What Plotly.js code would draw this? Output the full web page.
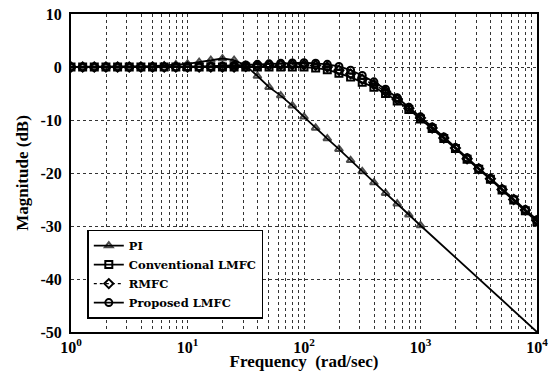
<!DOCTYPE html>
<html>
<head>
<meta charset="utf-8">
<script src="https://cdn.plot.ly/plotly-3.0.1.min.js"></script>
<style>html,body{margin:0;padding:0;background:#fff;}#chart{width:552px;height:371px;}</style>
</head>
<body>
<div id="chart"></div>
<script>
// Frequencies (rad/sec), 10 points per decade
var freq = [1,1.259,1.585,1.995,2.512,3.162,3.981,5.012,6.310,7.943,
            10,12.59,15.85,19.95,25.12,31.62,39.81,50.12,63.10,79.43,
            100,125.9,158.5,199.5,251.2,316.2,398.1,501.2,631.0,794.3,
            1000,1259,1585,1995,2512,3162,3981,5012,6310,7943,10000];

// PI: markers up to 1000, then line to 10^4
var piFreq = freq.slice(0,31).concat([10000]);
var piMag = [0,0,0,0,0,0.05,0.1,0.15,0.25,0.45,
             0.6,0.9,1.3,1.6,1.3,0.3,-1.7,-3.8,-5.4,-7.3,
             -9.4,-11.5,-13.5,-15.5,-17.6,-19.7,-21.8,-23.8,-25.8,-27.9,
             -29.9,-50];

var convMag = [0,0,0,0,0,0,0,0,0,0,
               0,0,0,0,0,0,0,0,0,0,
               0,-0.2,-0.5,-1.2,-1.9,-2.9,-3.8,-5.0,-6.4,-8.0,
               -9.8,-11.6,-13.5,-15.4,-17.4,-19.3,-21.2,-23.2,-25.1,-27.1,-29.2];

var rmfcMag = [0,0,0,0,0,0,0,0,0,0,
               0,0,0,0,0,0.1,0.2,0.3,0.4,0.4,
               0.4,0.3,0.0,-0.6,-1.3,-2.3,-3.3,-4.6,-6.1,-7.8,
               -9.6,-11.5,-13.4,-15.3,-17.3,-19.2,-21.1,-23.1,-25.0,-27.0,-29.0];

var propMag = [0,0,0,0,0,0,0,0,0,0,
               0.05,0.1,0.15,0.2,0.3,0.4,0.5,0.6,0.7,0.75,
               0.8,0.7,0.5,0.1,-0.6,-1.6,-2.8,-4.2,-5.8,-7.6,
               -9.4,-11.3,-13.2,-15.2,-17.1,-19.1,-21.0,-23.0,-24.9,-26.9,-28.8];

var seriesNames = ['PI','Conventional LMFC','RMFC','Proposed LMFC'];
var decadeVals = [1,10,100,1000,10000];
var decadeText = ['10<sup>0</sup>','10<sup>1</sup>','10<sup>2</sup>','10<sup>3</sup>','10<sup>4</sup>'];
var yTickVals = [10,0,-10,-20,-30,-40,-50];
var yTickText = ['10','0','-10','-20','-30','-40','-50'];

// x grid at every 1..9 multiple; labels only on decades
var xTickVals = [], xTickText = [];
decadeVals.forEach(function(d, i){
  if (d === 10000) { xTickVals.push(d); xTickText.push(decadeText[i]); return; }
  for (var m = 1; m <= 9; m++) {
    xTickVals.push(d * m);
    xTickText.push(m === 1 ? decadeText[i] : '');
  }
});

var piSizes = piFreq.map(function(f, i){ return i < 31 ? 7 : 0; });

var font = 'Liberation Serif, Times New Roman, serif';

var traces = [
  {x: piFreq, y: piMag, name: seriesNames[0], mode: 'lines+markers',
   line: {color: '#000', width: 1.8},
   marker: {symbol: 'triangle-up-open', size: piSizes, color: '#000', line: {width: 2, color: '#000'}}},
  {x: freq, y: convMag, name: seriesNames[1], mode: 'lines+markers',
   line: {color: '#000', width: 1.8},
   marker: {symbol: 'square-open', size: 7, color: '#000', line: {width: 2, color: '#000'}}},
  {x: freq, y: rmfcMag, name: seriesNames[2], mode: 'lines+markers',
   line: {color: '#000', width: 1.4, dash: 'dot'},
   marker: {symbol: 'diamond-open', size: 7, color: '#000', line: {width: 2, color: '#000'}}},
  {x: freq, y: propMag, name: seriesNames[3], mode: 'lines+markers',
   line: {color: '#000', width: 1.8},
   marker: {symbol: 'circle-open', size: 7, color: '#000', line: {width: 2, color: '#000'}}}
];

var layout = {
  width: 552, height: 371,
  margin: {l: 71, r: 15, t: 14, b: 39},
  paper_bgcolor: '#fff', plot_bgcolor: '#fff',
  font: {family: font, color: '#000', size: 15},
  showlegend: true,
  xaxis: {
    type: 'log', range: [0, 4],
    tickmode: 'array', tickvals: xTickVals, ticktext: xTickText,
    tickfont: {family: font, size: 16, color: '#000', weight: 'bold'},
    showgrid: true, gridcolor: '#333', griddash: 'dot', gridwidth: 1,
    showline: true, linecolor: '#000', linewidth: 2, mirror: true,
    ticks: '', zeroline: false,
    title: {text: 'Frequency  (rad/sec)', font: {family: font, size: 17, color: '#000', weight: 'bold'}, standoff: 0}
  },
  yaxis: {
    range: [-50, 10],
    tickmode: 'array', tickvals: yTickVals, ticktext: yTickText,
    tickfont: {family: font, size: 16, color: '#000', weight: 'bold'},
    showgrid: true, gridcolor: '#333', griddash: 'dot', gridwidth: 1,
    showline: true, linecolor: '#000', linewidth: 2, mirror: true,
    ticks: '', zeroline: false, ticklabelstandoff: 4,
    title: {text: 'Magnitude (dB)', font: {family: font, size: 17, color: '#000', weight: 'bold'}, standoff: 8}
  },
  legend: {
    x: 0.035, y: 0.322, xanchor: 'left', yanchor: 'top',
    bgcolor: '#fff', bordercolor: '#000', borderwidth: 1.5,
    font: {family: 'DejaVu Serif, serif', size: 11.5, color: '#000', weight: 'bold'},
    tracegroupgap: 0, itemwidth: 30
  }
};

Plotly.newPlot('chart', traces, layout, {displayModeBar: false, staticPlot: true});
</script>
</body>
</html>
